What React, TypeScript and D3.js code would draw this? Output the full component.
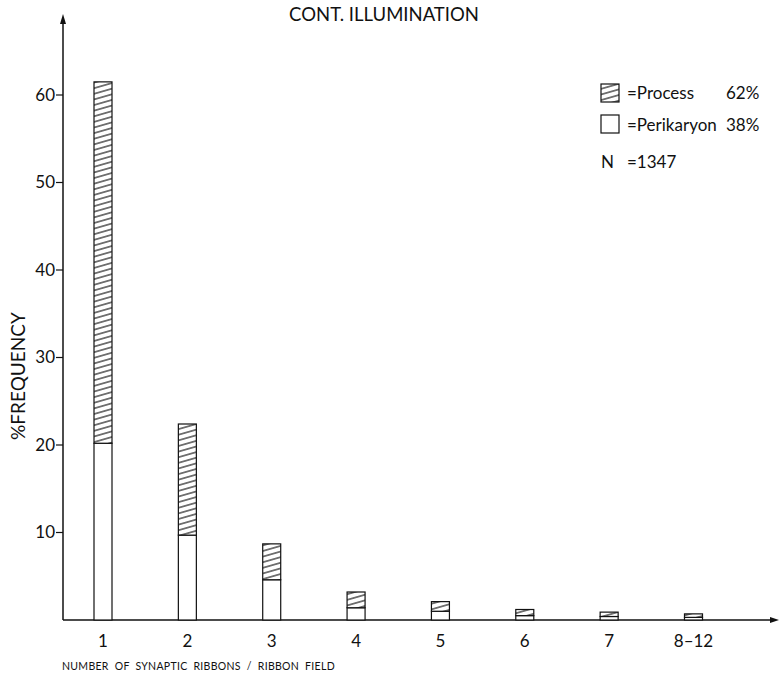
import { useEffect, useRef } from 'react'
import * as d3 from 'd3'

const CATEGORIES = ['1', '2', '3', '4', '5', '6', '7', '8-12']
const PERIKARYON = [20.2, 9.7, 4.6, 1.4, 1.0, 0.5, 0.4, 0.3]
const TOTAL = [61.5, 22.4, 8.7, 3.2, 2.1, 1.2, 0.9, 0.7]
const Y_TICKS = [10, 20, 30, 40, 50, 60]

const FONT = 'Lato, "Open Sans", sans-serif'

export default function App() {
  const svgRef = useRef<SVGSVGElement>(null)

  useEffect(() => {
    const svg = d3.select(svgRef.current)
    svg.selectAll('*').remove()

    const W = 780, H = 675
    const x0 = 63, y0 = 620
    const x = d3.scalePoint<string>().domain(CATEGORIES).range([103, 693.5])
    const y = d3.scaleLinear().domain([0, 60]).range([y0, 95])
    const bw = 18

    svg.attr('width', W).attr('height', H)

    const defs = svg.append('defs')
    const pat = defs.append('pattern')
      .attr('id', 'hatch').attr('patternUnits', 'userSpaceOnUse')
      .attr('width', 10).attr('height', 5.4)
      .attr('patternTransform', 'rotate(-16)')
    pat.append('rect').attr('width', 10).attr('height', 5.4).attr('fill', '#fff')
    pat.append('line').attr('x1', 0).attr('x2', 10).attr('y1', 2.7).attr('y2', 2.7)
      .attr('stroke', '#111').attr('stroke-width', 1.1)

    const ink = '#111'

    // axes with arrows
    svg.append('line').attr('x1', x0).attr('x2', x0).attr('y1', y0).attr('y2', 20)
      .attr('stroke', ink).attr('stroke-width', 1.5)
    svg.append('path').attr('d', `M${x0},14 L${x0 - 3},24 L${x0 + 3},24 Z`).attr('fill', ink)
    svg.append('line').attr('x1', x0).attr('x2', 773).attr('y1', y0).attr('y2', y0)
      .attr('stroke', ink).attr('stroke-width', 1.5)
    svg.append('path').attr('d', `M779,${y0} L770,${y0 - 3} L770,${y0 + 3} Z`).attr('fill', ink)

    // y ticks
    const yt = svg.append('g')
    yt.selectAll('line').data(Y_TICKS).join('line')
      .attr('x1', x0 - 7).attr('x2', x0).attr('y1', d => y(d)).attr('y2', d => y(d))
      .attr('stroke', ink).attr('stroke-width', 1.2)
    yt.selectAll('text').data(Y_TICKS).join('text')
      .attr('x', x0 - 8).attr('y', d => y(d)).attr('dy', '0.35em')
      .attr('text-anchor', 'end').attr('font-family', FONT).attr('font-size', 17)
      .attr('fill', ink).text(d => d)

    // x tick labels
    svg.append('g').selectAll('text').data(CATEGORIES).join('text')
      .attr('x', d => x(d)!).attr('y', 647)
      .attr('text-anchor', 'middle').attr('font-family', FONT).attr('font-size', 17)
      .attr('fill', ink).text(d => d.replace('-', '–'))

    // bars
    const bars = svg.append('g')
    CATEGORIES.forEach((c, i) => {
      const bx = x(c)! - bw / 2
      bars.append('rect').attr('x', bx).attr('width', bw)
        .attr('y', y(PERIKARYON[i])).attr('height', y0 - y(PERIKARYON[i]))
        .attr('fill', '#fff').attr('stroke', ink).attr('stroke-width', 1.2)
      bars.append('rect').attr('x', bx).attr('width', bw)
        .attr('y', y(TOTAL[i])).attr('height', y(PERIKARYON[i]) - y(TOTAL[i]))
        .attr('fill', 'url(#hatch)').attr('stroke', ink).attr('stroke-width', 1.2)
    })

    // titles
    svg.append('text').attr('x', 384).attr('y', 21).attr('text-anchor', 'middle')
      .attr('font-family', FONT).attr('font-size', 18.5).attr('fill', ink)
      .text('CONT. ILLUMINATION')
    svg.append('text').attr('transform', 'translate(25,376) rotate(-90)')
      .attr('text-anchor', 'middle').attr('font-family', FONT).attr('font-size', 19)
      .attr('fill', ink).text('%FREQUENCY')
    svg.append('text').attr('x', 62).attr('y', 670)
      .attr('font-family', FONT).attr('font-size', 10.5).attr('letter-spacing', 0.3)
      .attr('fill', ink).attr('word-spacing', 3)
      .text('NUMBER OF SYNAPTIC RIBBONS / RIBBON FIELD')

    // legend
    const lg = svg.append('g').attr('font-family', FONT).attr('font-size', 17).attr('fill', ink)
    lg.append('rect').attr('x', 601).attr('y', 84).attr('width', 18).attr('height', 18)
      .attr('fill', 'url(#hatch)').attr('stroke', ink).attr('stroke-width', 1.2)
    lg.append('text').attr('x', 627).attr('y', 99).text('=Process')
    lg.append('text').attr('x', 726).attr('y', 99).text('62%')
    lg.append('rect').attr('x', 601).attr('y', 115).attr('width', 18).attr('height', 18)
      .attr('fill', '#fff').attr('stroke', ink).attr('stroke-width', 1.2)
    lg.append('text').attr('x', 627).attr('y', 131).text('=Perikaryon')
    lg.append('text').attr('x', 726).attr('y', 131).text('38%')
    lg.append('text').attr('x', 601).attr('y', 168).text('N')
    lg.append('text').attr('x', 627).attr('y', 168).text('=1347')
  }, [])

  return (
    <svg ref={svgRef} style={{ position: 'absolute', left: 0, top: 0, display: 'block', background: '#fff' }} />
  )
}
